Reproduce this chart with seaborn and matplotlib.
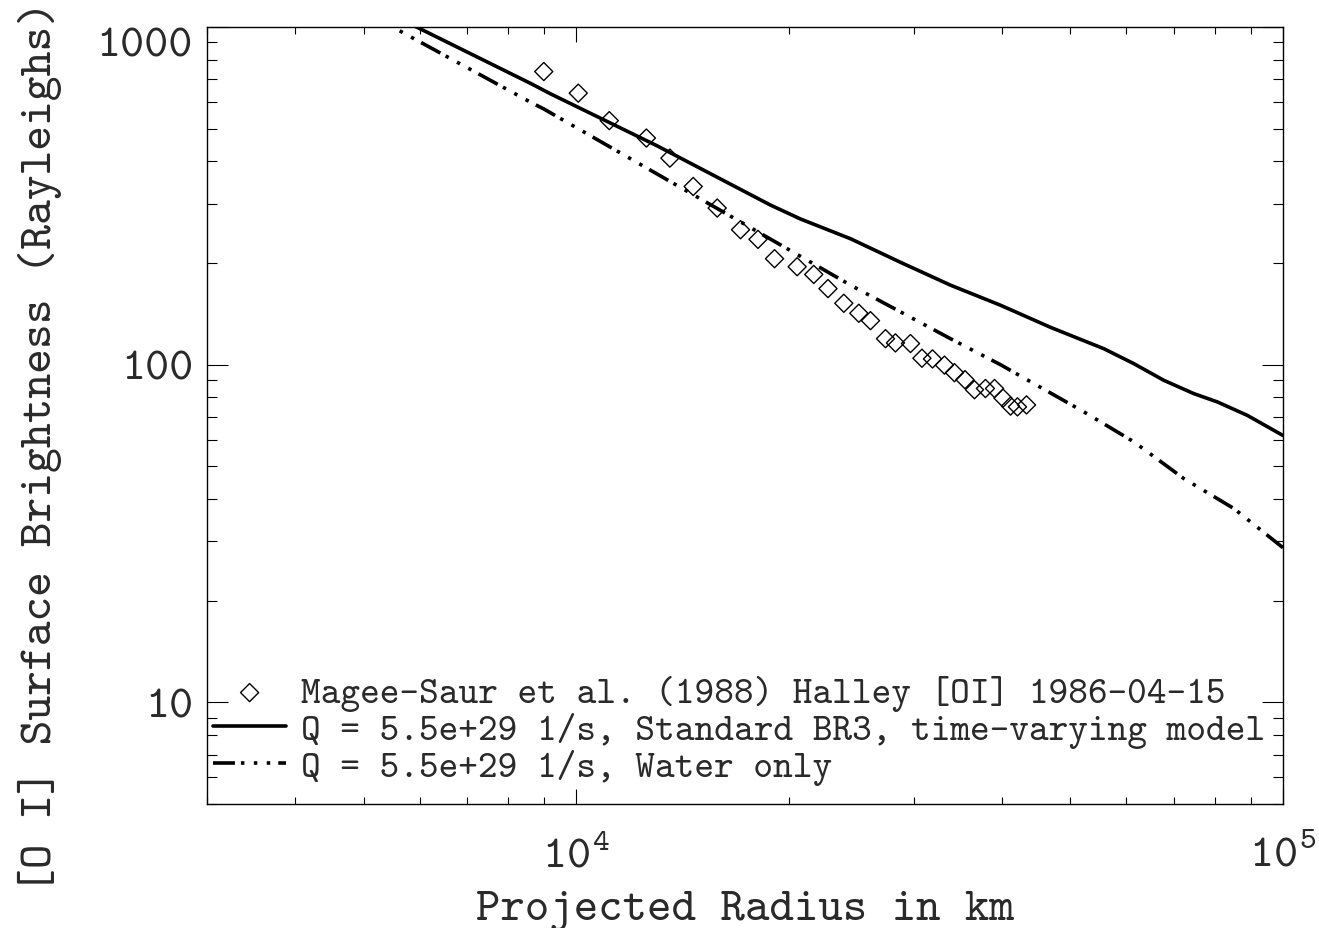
import numpy as np
import pandas as pd
import matplotlib
matplotlib.use("Agg")
import matplotlib.pyplot as plt
import seaborn as sns
from matplotlib.ticker import FixedLocator, NullFormatter, LogLocator

# ---- data ----
obs_radius_km = [8990, 10060, 11130, 12560, 13560, 14630, 15820, 17070, 18070, 19070,
                 20530, 21670, 22700, 23900, 25100, 26070, 27380, 28280, 29700, 30830,
                 31910, 33180, 34280, 35470, 36590, 37920, 39060, 40150, 41150, 42090, 43350]
obs_brightness = [738, 637, 528, 469, 409, 337, 291, 251, 235, 206,
                  195, 185, 168, 152, 142, 135, 119.4, 116, 115.5, 104.5,
                  104, 99.7, 94.7, 90.3, 84.3, 85, 85, 79.6, 75.4, 75.0, 76.0]

std_radius_km = [5500, 5950, 8608, 9190, 13000, 18816, 20757, 24432, 28743, 33834,
                 39822, 46875, 55775, 61498, 67801, 74756, 80700, 88985, 100000]
std_brightness = [1085, 998, 681, 634, 445, 297, 270, 236, 201, 172,
                  150, 129, 111.5, 100.7, 89.9, 82.1, 77.6, 70.8, 61.7]

water_radius_km = [5000, 5503, 8608, 8989, 17441, 24432, 33834, 39822, 52253, 61498,
                   72377, 85197, 100000]
water_brightness = [1112, 998, 599, 572, 258, 172, 119.4, 100, 72.5, 59.1,
                    46.0, 37.5, 28.7]

x_tick_values = [1e4, 1e5]
x_tick_labels = [r"$10^{4}$", r"$10^{5}$"]
y_tick_values = [10, 100, 1000]
y_tick_labels = ["10", "100", "1000"]

label_obs = "Magee-Saur et al. (1988) Halley [OI] 1986-04-15"
label_std = "Q = 5.5e+29 1/s, Standard BR3, time-varying model"
label_water = "Q = 5.5e+29 1/s, Water only"

# ---- style ----
sns.set_theme(style="ticks")
plt.rcParams.update({
    "font.family": ["cmtt10", "DejaVu Sans Mono"],
    "mathtext.fontset": "custom",
    "mathtext.rm": "cmtt10",
    "mathtext.it": "cmtt10",
    "mathtext.bf": "cmtt10",
    "axes.unicode_minus": False,
    "lines.scale_dashes": False,
    "axes.edgecolor": "black",
    "axes.linewidth": 1.0,
})

TXT = "#2a2a2a"
W, H = 1319, 929
fig = plt.figure(figsize=(W / 100, H / 100), dpi=100)
ax = fig.add_axes([207 / W, 1 - 805 / H, 1076 / W, 777 / H])

obs = pd.DataFrame({"r": obs_radius_km, "b": obs_brightness})
std = pd.DataFrame({"r": std_radius_km, "b": std_brightness})
wat = pd.DataFrame({"r": water_radius_km, "b": water_brightness})

sns.lineplot(data=std, x="r", y="b", ax=ax, color="black", lw=2.6, sort=False,
             label=label_std)
sns.lineplot(data=wat, x="r", y="b", ax=ax, color="black", lw=2.6, sort=False,
             linestyle=(0, (15.8, 4.3, 2.5, 6.8, 2.5, 6.8, 2.5, 5.8)),
             label=label_water)
sns.scatterplot(data=obs, x="r", y="b", ax=ax, marker="D", s=85,
                facecolors="none", edgecolor="black", linewidth=1.0,
                label=label_obs, zorder=3)

ax.set_xscale("log")
ax.set_yscale("log")
ax.set_xlim(3000, 1e5)
ax.set_ylim(5, 1000)

ax.xaxis.set_major_locator(FixedLocator(x_tick_values))
ax.xaxis.set_ticklabels(x_tick_labels)
ax.xaxis.set_minor_locator(LogLocator(base=10, subs=np.arange(2, 10)))
ax.xaxis.set_minor_formatter(NullFormatter())
ax.yaxis.set_major_locator(FixedLocator(y_tick_values))
ax.yaxis.set_ticklabels(y_tick_labels)
ax.yaxis.set_minor_locator(LogLocator(base=10, subs=np.arange(2, 10)))
ax.yaxis.set_minor_formatter(NullFormatter())

ax.tick_params(axis="both", which="both", direction="in", top=True, right=True,
               width=0.8, color="black", labelsize=33, labelcolor=TXT)
ax.tick_params(axis="x", which="major", length=10.8, pad=22)
ax.tick_params(axis="x", which="minor", length=5.0)
ax.tick_params(axis="y", which="major", length=15, pad=10)
ax.tick_params(axis="y", which="minor", length=7.2)
ax.yaxis.get_major_ticks()[2].label1.set_verticalalignment("top")

ax.set_xlabel("Projected Radius in km", fontsize=33.5, color=TXT, labelpad=10)
ax.set_ylabel("[O I] Surface Brightness (Rayleighs)", fontsize=34, color=TXT)
ax.yaxis.set_label_coords(-0.135, 0.461)

handles, labels = ax.get_legend_handles_labels()
order = [labels.index(label_obs), labels.index(label_std), labels.index(label_water)]
ax.legend([handles[i] for i in order], [labels[i] for i in order],
          loc="center left", bbox_to_anchor=(0.0056, 0.095), frameon=False,
          fontsize=27, handlelength=1.95, handletextpad=0.4, labelspacing=0.02,
          borderpad=0, borderaxespad=0, scatterpoints=1, labelcolor=TXT)

fig.savefig("out.png", dpi=100, facecolor="white")
